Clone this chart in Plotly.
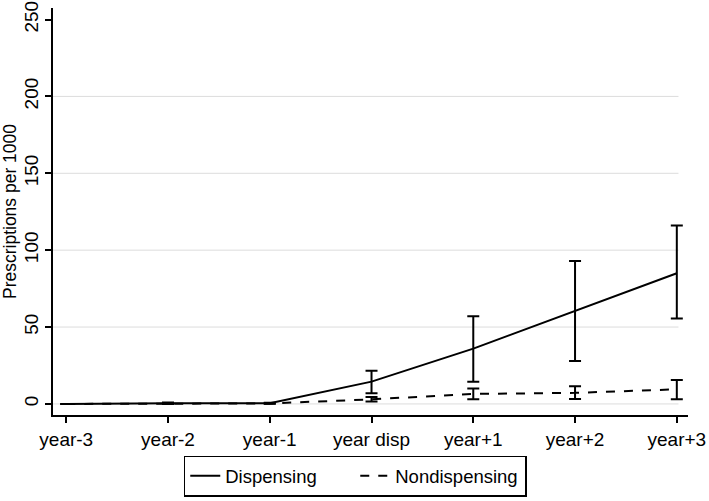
import plotly.graph_objects as go

categories = ["year-3", "year-2", "year-1", "year disp", "year+1", "year+2", "year+3"]
disp_mean = [0.0, 0.5, 0.5, 14.5, 36.0, 60.5, 85.0]
disp_upper = [0.0, 1.0, 0.8, 21.5, 57.0, 93.0, 116.0]
disp_lower = [0.0, 0.0, 0.2, 7.0, 14.5, 28.0, 55.5]
nond_mean = [0.0, 0.2, 0.3, 3.0, 6.5, 7.2, 9.5]
nond_upper = [0.0, 0.5, 0.5, 4.5, 10.0, 11.5, 15.5]
nond_lower = [0.0, 0.0, 0.1, 1.5, 3.0, 3.2, 3.0]
y_ticks = [0, 50, 100, 150, 200, 250]
grid_vals = [0, 50, 100, 150, 200]

x = list(range(len(categories)))
FONT = "Liberation Sans, Arial, Helvetica, sans-serif"

def err(mean, up, lo):
    return dict(type="data", symmetric=False,
                array=[u - m for u, m in zip(up, mean)],
                arrayminus=[m - l for m, l in zip(mean, lo)],
                color="black", thickness=2, width=6)

fig = go.Figure()
fig.add_trace(go.Scatter(x=x, y=disp_mean, mode="lines", name="Dispensing",
                         line=dict(color="black", width=2),
                         error_y=err(disp_mean, disp_upper, disp_lower)))
fig.add_trace(go.Scatter(x=x, y=nond_mean, mode="lines", name="Nondispensing",
                         line=dict(color="black", width=2, dash="dash"),
                         error_y=err(nond_mean, nond_upper, nond_lower)))

for g in grid_vals:
    fig.add_shape(type="line", xref="paper", x0=0, x1=0.985, yref="y", y0=g, y1=g,
                  line=dict(color="#dcdcdc", width=1), layer="below")

fig.update_layout(
    width=709, height=501,
    margin=dict(l=53, r=21, t=8, b=86, autoexpand=False),
    plot_bgcolor="white", paper_bgcolor="white",
    font=dict(family=FONT, size=19, color="black"),
    showlegend=True,
    legend=dict(orientation="h", x=0.476, xanchor="center", y=-0.1, yanchor="top",
                bordercolor="black", borderwidth=1.5, font=dict(size=18.5),
                entrywidth=125, entrywidthmode="pixels"),
    xaxis=dict(range=[-0.13, 6.11], tickvals=x, ticktext=categories,
               showline=True, linecolor="black", linewidth=1.5, automargin=False,
               ticks="outside", ticklen=6, tickcolor="black", tickwidth=1.5,
               showgrid=False, zeroline=False, tickfont=dict(size=19)),
    yaxis=dict(range=[-7.2, 257.5], tickvals=y_ticks, tickangle=-90,
               showline=True, linecolor="black", linewidth=1.5, automargin=False,
               ticks="outside", ticklen=6, tickcolor="black", tickwidth=1.5,
               showgrid=False, zeroline=False, tickfont=dict(size=19),
               title=dict(text="Prescriptions per 1000", standoff=2, font=dict(size=17.5))),
)

fig.write_html("out.html")
